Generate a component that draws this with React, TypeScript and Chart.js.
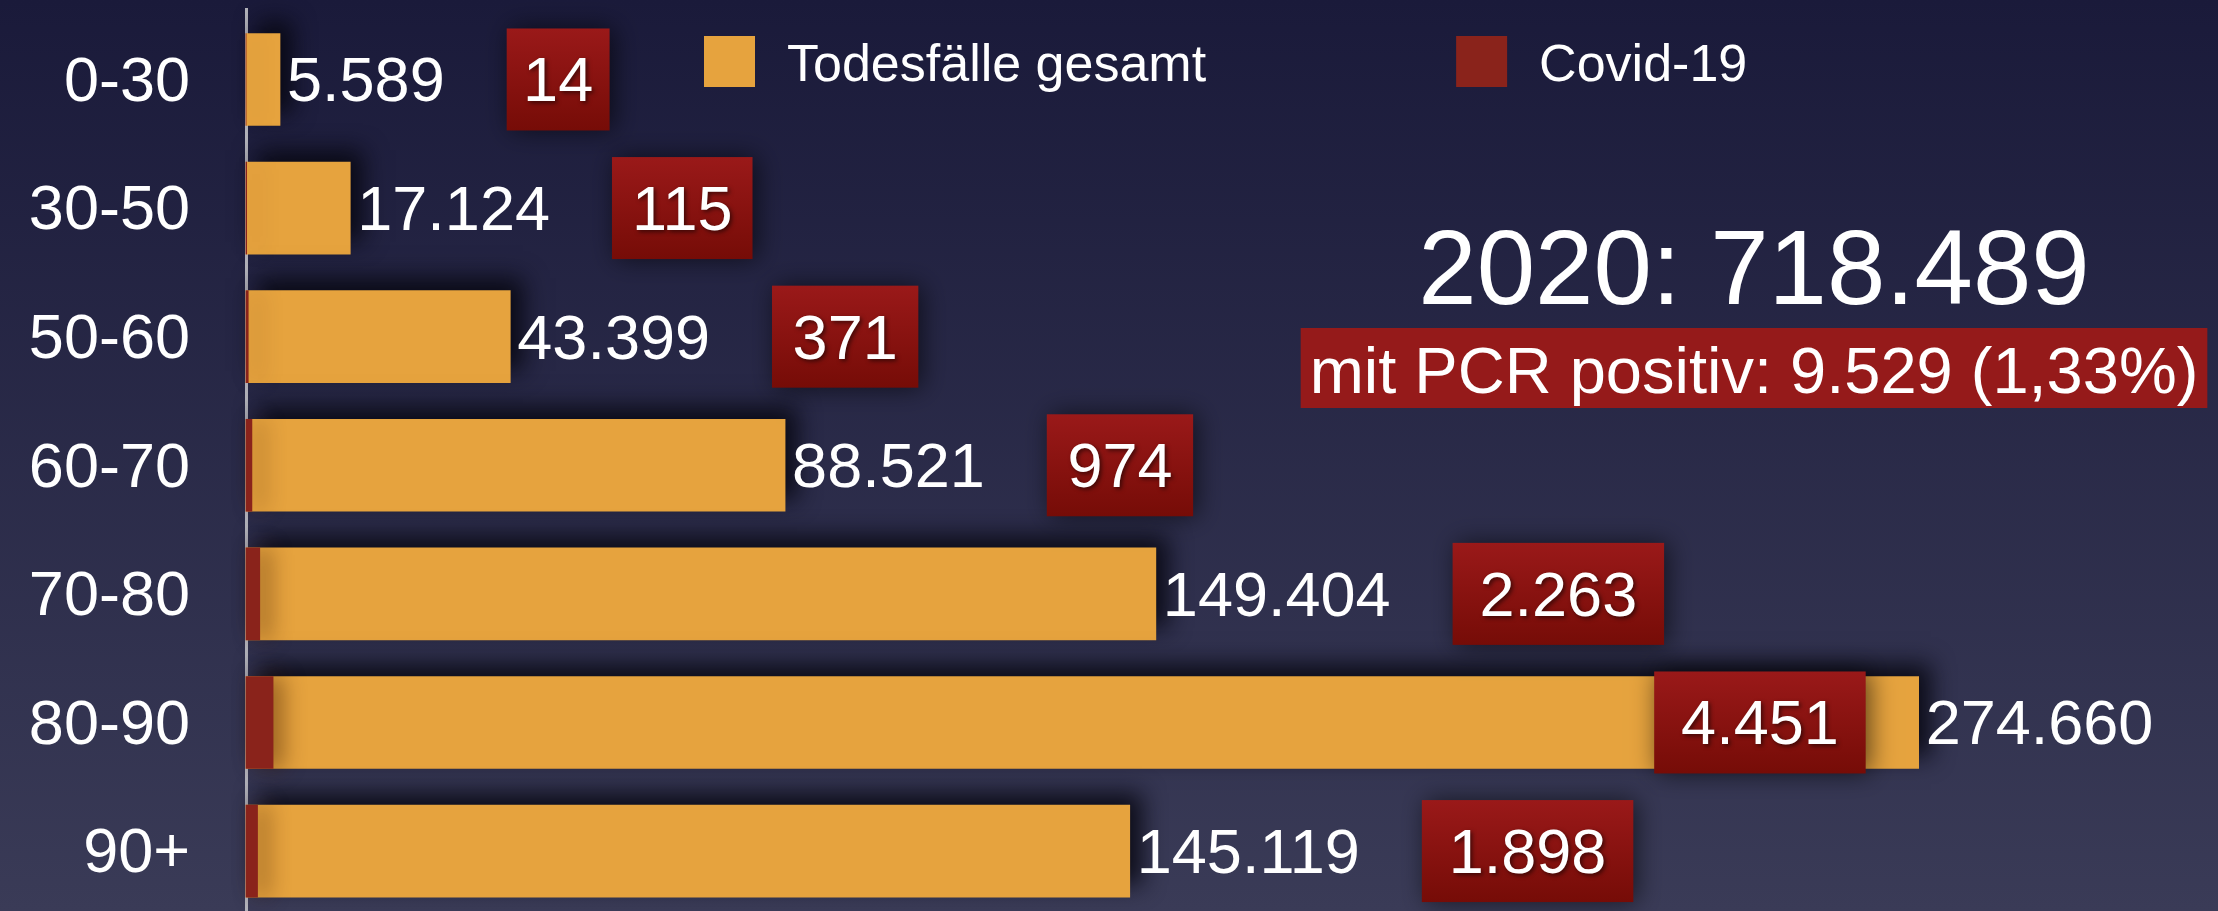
import React, { useEffect, useRef } from 'react';
import { Chart, registerables } from 'chart.js';

Chart.register(...registerables);

// ---- data ----
const categories = ['0-30', '30-50', '50-60', '60-70', '70-80', '80-90', '90+'];
const totalDeaths = [5589, 17124, 43399, 88521, 149404, 274660, 145119];
const covidDeaths = [14, 115, 371, 974, 2263, 4451, 1898];
const seriesNames = ['Todesfälle gesamt', 'Covid-19'];
const headlineYear = '2020';
const headlineTotal = 718489;
const pcrPositive = 9529;
const pcrShare = '1,33%';

// ---- styles ----
const FONT = '"Liberation Sans", Arial, Helvetica, sans-serif';
const ORANGE = '#e6a33e';
const RED = '#8a231b';
const W = 2218;
const H = 911;

const fmt = (n: number) => String(n).replace(/\B(?=(\d{3})+(?!\d))/g, '.');

const bgPlugin = {
  id: 'bgGradient',
  beforeDraw(chart: any) {
    const { ctx, width, height } = chart;
    const g = ctx.createLinearGradient(0, 0, 0, height);
    g.addColorStop(0, '#1a1a3a');
    g.addColorStop(1, '#3a3b57');
    ctx.save();
    ctx.fillStyle = g;
    ctx.fillRect(0, 0, width, height);
    ctx.restore();
  },
};

const shadowPlugin = {
  id: 'barShadow',
  beforeDatasetDraw(chart: any, args: any) {
    const ctx = chart.ctx;
    ctx.save();
    if (args.index === 0) {
      ctx.shadowColor = 'rgba(8,8,18,0.9)';
      ctx.shadowBlur = 22;
      ctx.shadowOffsetX = 12;
      ctx.shadowOffsetY = -12;
    } else {
      ctx.shadowColor = 'rgba(60,25,0,0.45)';
      ctx.shadowBlur = 22;
      ctx.shadowOffsetX = 10;
      ctx.shadowOffsetY = 0;
    }
  },
  afterDatasetDraw(chart: any) {
    chart.ctx.restore();
  },
};

const labelPlugin = {
  id: 'valueLabels',
  afterDatasetsDraw(chart: any) {
    const ctx = chart.ctx;
    const bars = chart.getDatasetMeta(0).data;
    ctx.save();
    ctx.font = `63px ${FONT}`;
    ctx.textBaseline = 'alphabetic';
    bars.forEach((bar: any, i: number) => {
      const txt = fmt(totalDeaths[i]);
      const x = bar.x + 7;
      const base = bar.y + 22;
      ctx.fillStyle = '#ffffff';
      ctx.textAlign = 'left';
      ctx.fillText(txt, x, base);
      const tw = ctx.measureText(txt).width;

      const ctxt = fmt(covidDeaths[i]);
      const cw = ctx.measureText(ctxt).width;
      const pad = 8 + cw * 0.12;
      const bw = cw + 2 * pad;
      const bh = 102;
      let bx = x + tw + 62;
      if (bx + bw > chart.width - 10) bx = bar.x - 53 - bw;
      const by = bar.y - bh / 2;

      ctx.save();
      ctx.shadowColor = 'rgba(0,0,0,0.6)';
      ctx.shadowBlur = 24;
      ctx.shadowOffsetX = 4;
      const g = ctx.createLinearGradient(0, by, 0, by + bh);
      g.addColorStop(0, '#9a1919');
      g.addColorStop(1, '#760c07');
      ctx.fillStyle = g;
      ctx.fillRect(bx, by, bw, bh);
      ctx.restore();

      ctx.save();
      ctx.shadowColor = 'rgba(0,0,0,0.55)';
      ctx.shadowBlur = 4;
      ctx.shadowOffsetX = 2;
      ctx.shadowOffsetY = 2;
      ctx.fillStyle = '#ffffff';
      ctx.textAlign = 'center';
      ctx.fillText(ctxt, bx + bw / 2, base);
      ctx.restore();
    });
    ctx.restore();
  },
};

const headerPlugin = {
  id: 'header',
  afterDraw(chart: any) {
    const ctx = chart.ctx;
    ctx.save();
    ctx.textBaseline = 'alphabetic';
    ctx.textAlign = 'center';
    ctx.fillStyle = '#ffffff';
    ctx.font = `105px ${FONT}`;
    ctx.fillText(`${headlineYear}: ${fmt(headlineTotal)}`, 1754, 304);

    const pcr = `mit PCR positiv: ${fmt(pcrPositive)} (${pcrShare})`;
    ctx.font = `65px ${FONT}`;
    const pw = ctx.measureText(pcr).width + 18;
    ctx.fillStyle = '#951a1a';
    ctx.fillRect(1754 - pw / 2, 328, pw, 80);
    ctx.fillStyle = '#ffffff';
    ctx.fillText(pcr, 1754, 393);

    // legend
    ctx.font = `52px ${FONT}`;
    ctx.textAlign = 'left';
    let lx = 704;
    chart.data.datasets.forEach((ds: any) => {
      ctx.fillStyle = ds.backgroundColor;
      ctx.fillRect(lx, 36, 51, 51);
      ctx.fillStyle = '#ffffff';
      ctx.fillText(ds.label, lx + 51 + 32, 81);
      lx += 51 + 32 + ctx.measureText(ds.label).width + 250;
    });
    ctx.restore();
  },
};

export default function App() {
  const ref = useRef<HTMLCanvasElement | null>(null);

  useEffect(() => {
    if (!ref.current) return;
    Chart.defaults.font.family = FONT;
    const chart = new Chart(ref.current, {
      type: 'bar',
      data: {
        datasets: [
          {
            label: seriesNames[0],
            data: totalDeaths.map((v, i) => ({ x: v, y: i })),
            backgroundColor: ORANGE,
            grouped: false,
            barThickness: 92,
            order: 1,
            clip: false,
          } as any,
          {
            label: seriesNames[1],
            data: covidDeaths.map((v, i) => ({ x: v, y: i })),
            backgroundColor: RED,
            grouped: false,
            barThickness: 92,
            order: 0,
            clip: false,
          } as any,
        ],
      },
      options: {
        indexAxis: 'y',
        animation: false,
        responsive: false,
        maintainAspectRatio: false,
        layout: { padding: { top: 9, right: 145, bottom: 0, left: 0 } },
        plugins: {
          legend: { display: false },
          tooltip: { enabled: false },
        },
        scales: {
          x: {
            type: 'linear',
            min: 0,
            max: 300000,
            display: false,
          },
          y: {
            type: 'linear',
            reverse: true,
            offset: false,
            min: -0.548,
            max: 6.466,
            z: 1,
            afterBuildTicks: (s: any) => {
              s.ticks = categories.map((_, i) => ({ value: i }));
            },
            afterFit: (s: any) => {
              s.width = 246;
              s.paddingTop = 0;
              s.paddingBottom = 0;
            },
            ticks: {
              autoSkip: false,
              padding: 56,
              labelOffset: 4,
              color: '#ffffff',
              font: { size: 63, family: FONT },
              callback: (v: any) => categories[v as number] ?? '',
            },
            grid: { display: false, drawTicks: false, offset: false },
            border: { display: true, color: '#b4b4bc', width: 3 },
          },
        },
      } as any,
      plugins: [bgPlugin, shadowPlugin, labelPlugin, headerPlugin],
    });
    return () => chart.destroy();
  }, []);

  return (
    <div style={{ position: 'fixed', left: 0, top: 0, width: W, height: H }}>
      <canvas ref={ref} width={W} height={H} style={{ display: 'block', width: W, height: H }} />
    </div>
  );
}
